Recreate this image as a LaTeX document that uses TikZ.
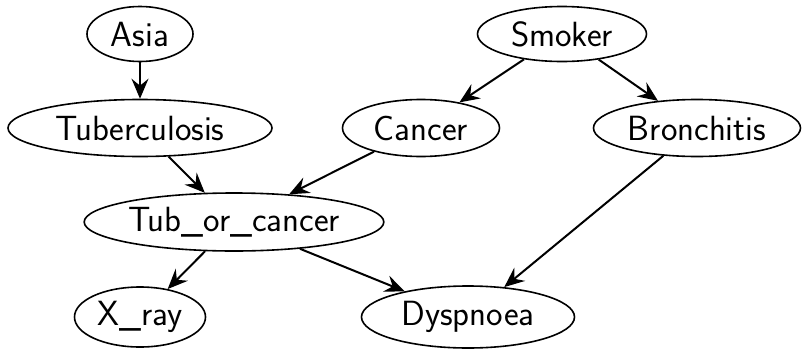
\documentclass[tikz,border=0pt]{standalone}
\usepackage{tikz}
\usetikzlibrary{shapes.geometric,arrows.meta}

\begin{document}
\begin{tikzpicture}[x=0.5pt, y=-0.5pt,
		var/.style={ellipse, draw, line width=0.8pt, inner sep=0pt,
			font=\sffamily\fontsize{17.5}{20}\selectfont},
		arr/.style={-{Stealth[length=10pt, width=8.5pt, inset=3.5pt]}, line width=1pt}]
	\useasboundingbox (0,0) rectangle (804,354);
	\node[var, minimum width=53pt, minimum height=27.5pt] (asia) at (140,34) {Asia};
	\node[var, minimum width=84.5pt, minimum height=27.5pt] (smoker) at (562,34) {Smoker};
	\node[var, minimum width=132pt, minimum height=28.5pt] (tub) at (140,128) {Tuberculosis};
	\node[var, minimum width=78.5pt, minimum height=28.5pt] (cancer) at (421,128) {Cancer};
	\node[var, minimum width=103.5pt, minimum height=28.5pt] (bronc) at (697,128) {Bronchitis};
	\node[var, minimum width=149pt, minimum height=29pt] (either) at (234,222) {Tub\_or\_cancer};
	\node[var, minimum width=65.5pt, minimum height=30pt] (xray) at (140,317) {X\_ray};
	\node[var, minimum width=106.5pt, minimum height=31pt] (dysp) at (468,317) {Dyspnoea};
	\draw[arr] (asia) -- (tub);
	\draw[arr] (smoker) -- (cancer);
	\draw[arr] (smoker) -- (bronc);
	\draw[arr] (tub) -- (either);
	\draw[arr] (cancer) -- (either);
	\draw[arr] (either) -- (xray);
	\draw[arr] (either) -- (dysp);
	\draw[arr] (bronc) -- (dysp);
\end{tikzpicture}
\end{document}
